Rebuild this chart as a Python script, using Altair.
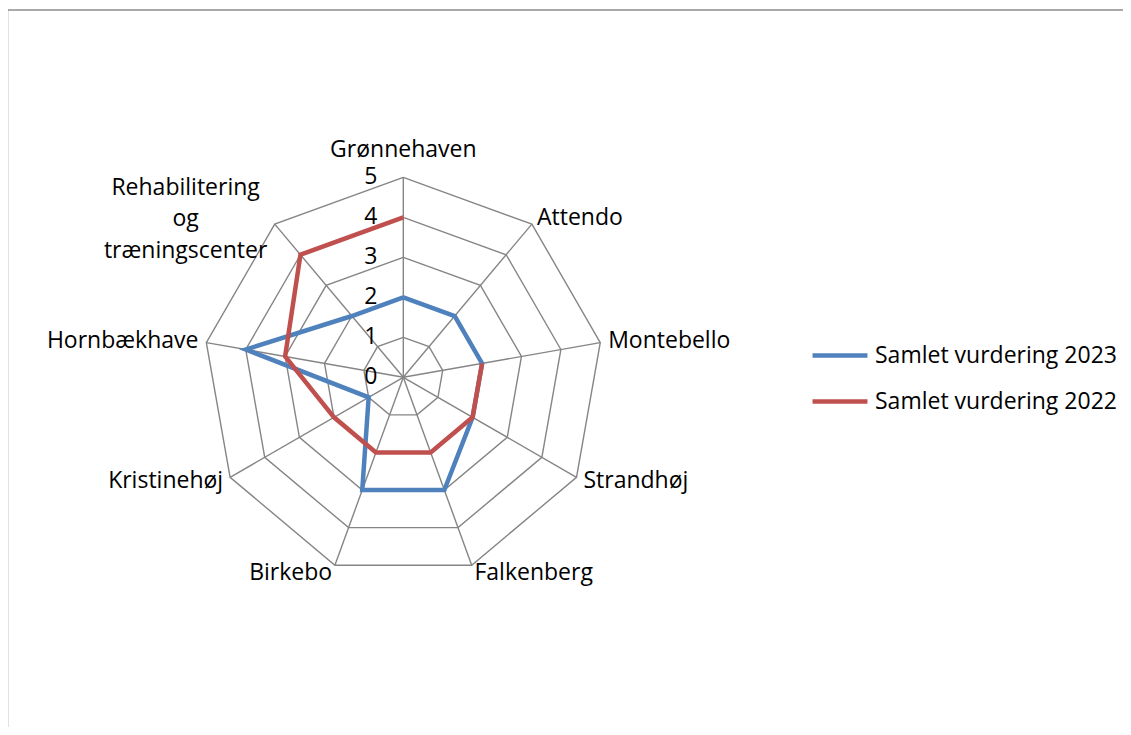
import math
import altair as alt
import pandas as pd

categories = ["Grønnehaven", "Attendo", "Montebello", "Strandhøj", "Falkenberg",
              "Birkebo", "Kristinehøj", "Hornbækhave", "Rehabilitering\nog\ntræningscenter"]
series_names = ["Samlet vurdering 2023", "Samlet vurdering 2022"]
values_2023 = [2, 2, 2, 2, 3, 3, 1, 4, 2]
values_2022 = [4, None, 2, 2, 2, 2, 2, 3, 4]
levels = [0, 1, 2, 3, 4, 5]
colors = ["#4F81BD", "#C0504D"]

# ---- layout (pixels) ----
W, H = 1115, 719
CX, CY = 395.3, 369.3          # centre of the radar inside the plot area
PX = 40.0                      # pixels per unit
RMAX = max(levels)
xdom = [-CX / PX, (W - CX) / PX]
ydom = [-(H - CY) / PX, CY / PX]
xs = alt.Scale(domain=xdom, nice=False, zero=False)
ys = alt.Scale(domain=ydom, nice=False, zero=False)
FONT = "Open Sans"
FS = 23
GRID = "#858585"
n = len(categories)
ang = [2 * math.pi * i / n for i in range(n)]

# ---- grid rings ----
ring_rows = []
for lv in levels[1:]:
    for k in range(n + 1):
        a = ang[k % n]
        ring_rows.append({"lv": lv, "k": k, "x": lv * math.sin(a), "y": lv * math.cos(a)})
rings = alt.Chart(pd.DataFrame(ring_rows)).mark_line(color=GRID, strokeWidth=1.4).encode(
    x=alt.X("x:Q", scale=xs, axis=None),
    y=alt.Y("y:Q", scale=ys, axis=None),
    detail="lv:N",
    order="k:Q",
)

# ---- spokes ----
spoke_rows = [{"x": 0.0, "y": 0.0, "x2": RMAX * math.sin(a), "y2": RMAX * math.cos(a)} for a in ang]
spokes = alt.Chart(pd.DataFrame(spoke_rows)).mark_rule(color=GRID, strokeWidth=1.4).encode(
    x=alt.X("x:Q", scale=xs, axis=None),
    y=alt.Y("y:Q", scale=ys, axis=None),
    x2="x2:Q",
    y2="y2:Q",
)

# ---- series ----
ser_rows = []
for name, vals in zip(series_names, [values_2023, values_2022]):
    nulls = [i for i, v in enumerate(vals) if v is None]
    if not nulls:
        seq = list(range(n)) + [0]
    else:
        start = (nulls[-1] + 1) % n
        seq = [(start + j) % n for j in range(n)]
    seg = 0
    k = 0
    for i in seq:
        v = vals[i]
        if v is None:
            seg += 1
            continue
        ser_rows.append({"series": name, "seg": f"{name}-{seg}", "k": k,
                         "x": v * math.sin(ang[i]), "y": v * math.cos(ang[i])})
        k += 1

lines = alt.Chart(pd.DataFrame(ser_rows)).mark_line(strokeWidth=4.5).encode(
    x=alt.X("x:Q", scale=xs, axis=None),
    y=alt.Y("y:Q", scale=ys, axis=None),
    color=alt.Color("series:N", scale=alt.Scale(domain=series_names, range=colors),
                    legend=alt.Legend(orient="none", legendX=807, legendY=322.5, title=None,
                                      symbolType="M-1.22,0H1.22", symbolSize=2025,
                                      symbolStrokeWidth=4.5, labelFont=FONT, labelFontSize=FS,
                                      labelColor="black", labelOffset=10, rowPadding=9,
                                      labelLimit=0, padding=0)),
    detail="seg:N",
    order="k:Q",
)

# ---- category labels ----
lab_rows = []
for c, a in zip(categories, ang):
    s, co = math.sin(a), math.cos(a)
    r = RMAX + 8 / PX
    if abs(co) > 0.99:
        r += 19 / PX
    if abs(s) < 0.1:
        al = "center"
    elif s > 0:
        al = "left"
    else:
        al = "right"
    lab_rows.append({"label": c, "x": r * s, "y": r * co, "al": al, "multi": "\n" in c})
lab_df = pd.DataFrame(lab_rows)

def lab_layer(df, align, dx=0, dy=0):
    return alt.Chart(df).mark_text(align=align, baseline="middle", font=FONT, fontSize=FS,
                                   color="black", lineBreak="\n", lineHeight=31.5,
                                   dx=dx, dy=dy).encode(
        x=alt.X("x:Q", scale=xs, axis=None),
        y=alt.Y("y:Q", scale=ys, axis=None),
        text="label:N",
    )

label_layers = []
for al in ["left", "right", "center"]:
    d = lab_df[(lab_df.al == al) & (~lab_df.multi)]
    if len(d):
        label_layers.append(lab_layer(d, al))
dm = lab_df[lab_df.multi]
if len(dm):
    label_layers.append(lab_layer(dm, "center", dx=-84, dy=-30))

# ---- tick labels ----
ticks = alt.Chart(pd.DataFrame({"lv": levels, "x": [0.0] * len(levels)})).mark_text(
    align="right", baseline="middle", dx=-26, font=FONT, fontSize=FS, color="black").encode(
    x=alt.X("x:Q", scale=xs, axis=None),
    y=alt.Y("lv:Q", scale=ys, axis=None),
    text="lv:Q",
)

# ---- outer frame (top and left edges) ----
frame_df = pd.DataFrame({"a": [0]})
top_edge = alt.Chart(frame_df).mark_rule(color="#8C8C8C", strokeWidth=1.5).encode(
    x=alt.value(-1), x2=alt.value(W + 8), y=alt.value(2))
left_edge = alt.Chart(frame_df).mark_rule(color="#8C8C8C", strokeWidth=1.5).encode(
    x=alt.value(-0.5), y=alt.value(2), y2=alt.value(H + 8))

chart = alt.layer(rings, spokes, lines, *label_layers, ticks, top_edge, left_edge).properties(
    width=W, height=H, padding=0, autosize=alt.AutoSizeParams(type="none"),
    background="white",
).configure_view(stroke=None)

chart.save("out.html", embed_options={"renderer": "svg", "actions": False})
